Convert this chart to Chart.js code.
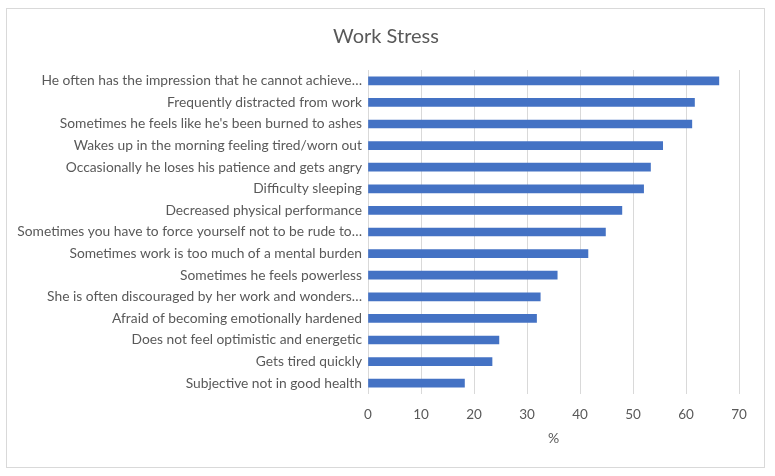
<!DOCTYPE html>
<html>
<head>
<meta charset="utf-8">
<script src="https://cdn.jsdelivr.net/npm/chart.js@4"></script>
<style>
html,body{margin:0;padding:0;background:#fff;}
#wrap{width:775px;height:476px;position:relative;}
</style>
</head>
<body>
<div id="wrap"><canvas id="c" width="775" height="476"></canvas></div>
<script>
const categories = [
  "He often has the impression that he cannot achieve\u2026",
  "Frequently distracted from work",
  "Sometimes he feels like he's been burned to ashes",
  "Wakes up in the morning feeling tired/worn out",
  "Occasionally he loses his patience and gets angry",
  "Difficulty sleeping",
  "Decreased physical performance",
  "Sometimes you have to force yourself not to be rude to\u2026",
  "Sometimes work is too much of a mental burden",
  "Sometimes he feels powerless",
  "She is often discouraged by her work and wonders\u2026",
  "Afraid of becoming emotionally hardened",
  "Does not feel optimistic and energetic",
  "Gets tired quickly",
  "Subjective not in good health"
];
const values = [66.2, 61.6, 61.1, 55.6, 53.3, 52.0, 47.9, 44.8, 41.5, 35.7, 32.5, 31.8, 24.7, 23.4, 18.2];
const xTicks = [0, 10, 20, 30, 40, 50, 60, 70];
const chartTitle = "Work Stress";
const xTitle = "%";

const FONT = "Lato, 'Open Sans', sans-serif";
const TXT = "#595959";

const borderPlugin = {
  id: 'outerBorder',
  beforeDraw(chart) {
    const ctx = chart.ctx;
    ctx.save();
    ctx.fillStyle = '#fff';
    ctx.fillRect(0, 0, chart.width, chart.height);
    ctx.strokeStyle = '#d9d9d9';
    ctx.lineWidth = 1;
    ctx.strokeRect(6.5, 8.5, 758, 459);
    ctx.restore();
  },
  afterDraw(chart) {
    const ctx = chart.ctx;
    ctx.save();
    ctx.fillStyle = TXT;
    ctx.font = "20px " + FONT;
    ctx.textAlign = 'center';
    ctx.textBaseline = 'middle';
    ctx.fillText(chartTitle, 386, 37);
    ctx.restore();
  }
};

new Chart(document.getElementById('c'), {
  type: 'bar',
  data: {
    labels: categories,
    datasets: [{
      data: values,
      backgroundColor: '#4472C4',
      borderWidth: 0,
      barThickness: 8
    }]
  },
  options: {
    indexAxis: 'y',
    responsive: false,
    animation: false,
    devicePixelRatio: 1,
    layout: { padding: { top: 70, left: 7, right: 36, bottom: 29 } },
    plugins: {
      legend: { display: false },
      tooltip: { enabled: false },
      title: { display: false }
    },
    scales: {
      x: {
        min: 0,
        max: 70,
        afterBuildTicks(axis) { axis.ticks = xTicks.map(v => ({ value: v })); },
        grid: { color: '#d9d9d9', drawTicks: false, lineWidth: 1 },
        border: { display: false },
        ticks: { color: TXT, font: { family: FONT, size: 13.5 }, padding: 13 },
        title: { display: true, text: xTitle, color: TXT, font: { family: FONT, size: 14 }, padding: { top: -6, bottom: 0 } }
      },
      y: {
        afterFit(axis) { axis.width = 361; },
        grid: { display: false, drawTicks: false },
        border: { display: false },
        ticks: { color: TXT, font: { family: FONT, size: 13.8 }, padding: 6, autoSkip: false }
      }
    }
  },
  plugins: [borderPlugin]
});
</script>
</body>
</html>
